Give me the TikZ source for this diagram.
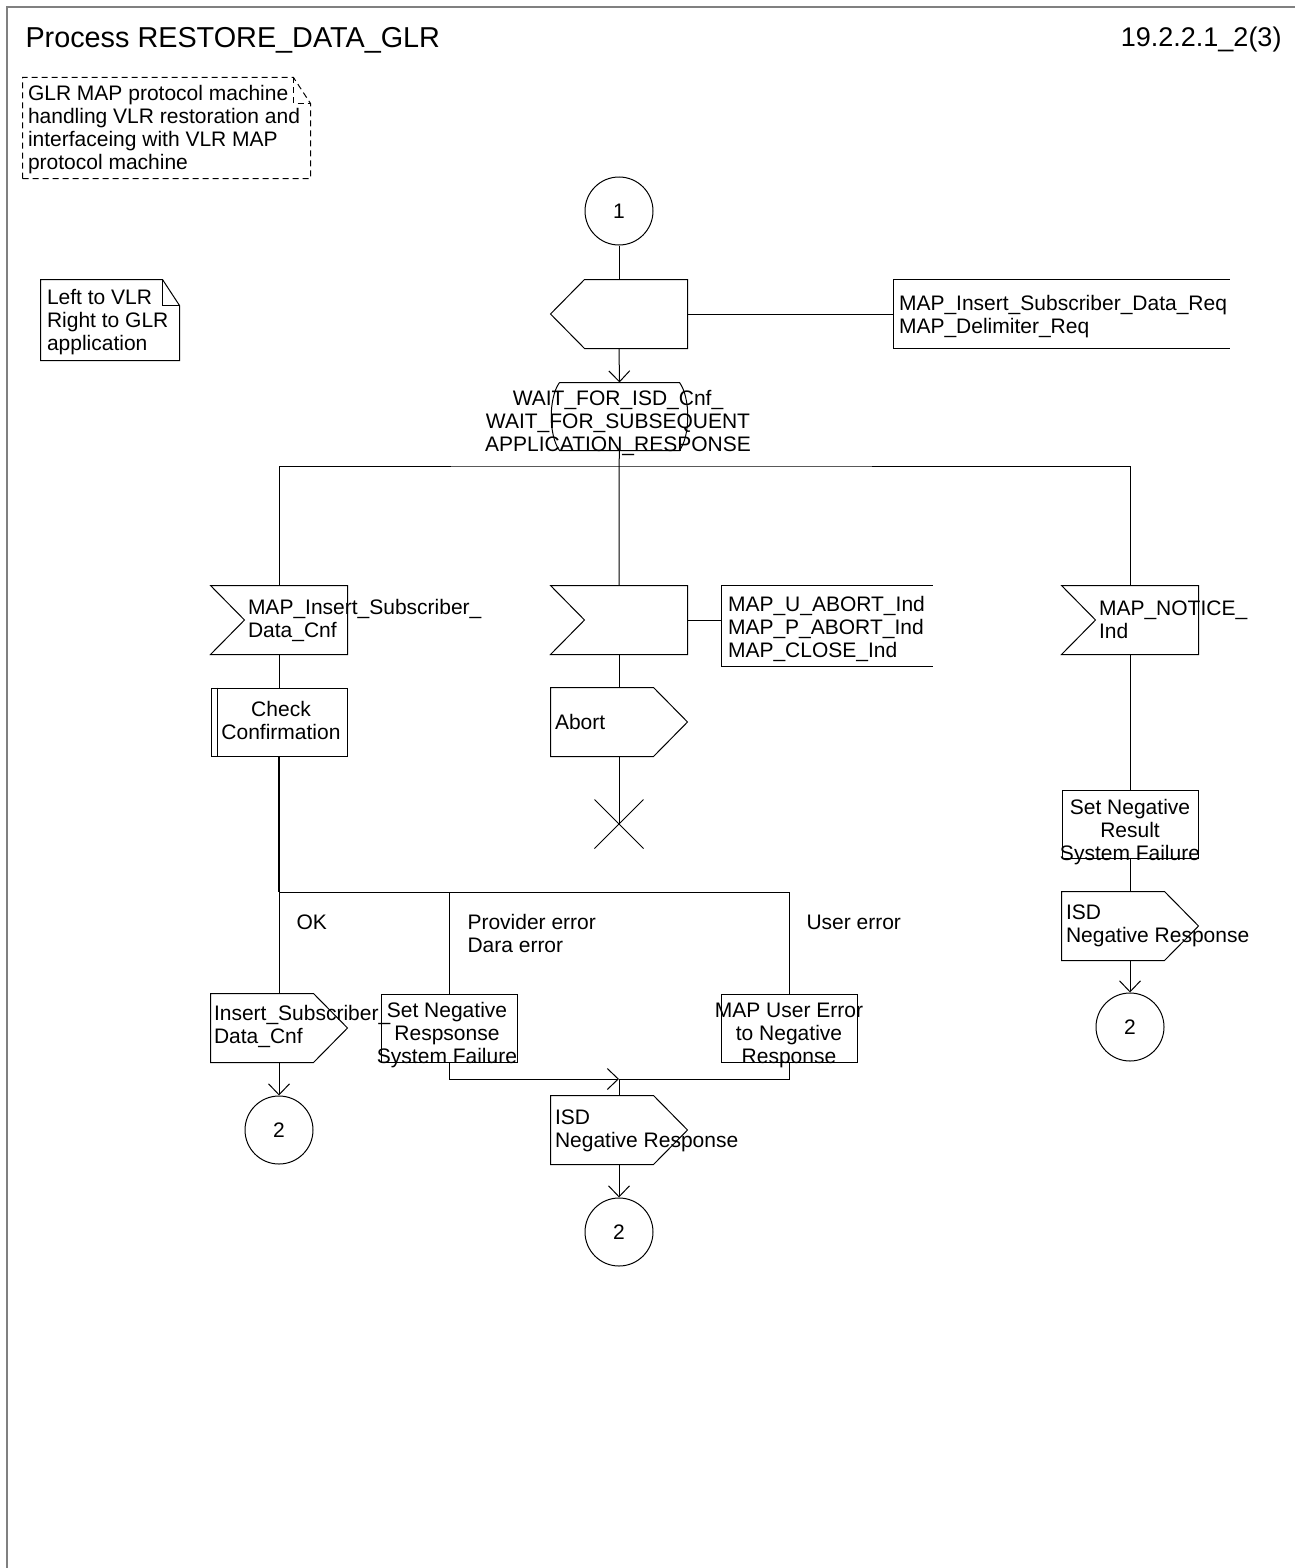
\documentclass[tikz,border=0pt]{standalone}
\usepackage{fontspec}
\setmainfont{Liberation Sans}
\usetikzlibrary{arrows.meta, shapes.misc}

\tikzset{
  lbl/.style={font=\fontsize{10.5}{11.5}\selectfont, inner sep=0pt, align=left},
  sdl/.style={minimum width=68pt, minimum height=34pt, inner sep=0pt},
  task/.style={sdl, draw, rectangle},
  connector/.style={draw, circle, minimum size=34pt, inner sep=0pt, font=\fontsize{10.5}{11.5}\selectfont},
  flow/.style={-{Straight Barb[length=5.5pt,width=10.5pt]}},
  frame/.style={draw=black!50, line width=1pt},
}
% outlines of the SDL symbols, drawn round a named box
\newcommand{\sdlinput}[1]{\draw (#1.north west) -- (#1.north east) -- (#1.south east) -- (#1.south west) -- ([xshift=17pt]#1.west) -- cycle;}
\newcommand{\sdloutput}[1]{\draw (#1.north west) -- ([xshift=-17pt]#1.north east) -- (#1.east) -- ([xshift=-17pt]#1.south east) -- (#1.south west) -- cycle;}
\newcommand{\sdloutleft}[1]{\draw ([xshift=17pt]#1.north west) -- (#1.north east) -- (#1.south east) -- ([xshift=17pt]#1.south west) -- (#1.west) -- cycle;}

\begin{document}
\begin{tikzpicture}[x=0.5pt, y=-0.5pt, line width=0.5pt]
  \useasboundingbox (0,0) rectangle (1295,1568);
  % Frame and heading
  \draw[frame] (7,1580) -- (7,7) -- (1300,7);
  \node[anchor=west, inner sep=0pt, font=\fontsize{14.4}{16}\selectfont] (title) at (25,40) {Process RESTORE\_DATA\_GLR};
  \node[anchor=east, inner sep=0pt, font=\fontsize{13.5}{16}\selectfont] (page) at (1282,40) {19.2.2.1\_2(3)};

  % Comments
  \node[minimum width=143.5pt, minimum height=50pt, inner sep=0pt] (cmt) at (166.5,128) {};
  \draw[dash pattern=on 3pt off 2pt] (cmt.south west) -- (cmt.north west) -- ([xshift=-8.5pt]cmt.north east) -- ([yshift=-13pt]cmt.north east) -- (cmt.south east) -- cycle;
  \draw[dash pattern=on 3pt off 2pt] ([xshift=-8.5pt]cmt.north east) |- ([yshift=-13pt]cmt.north east);
  \node[lbl, anchor=west] at ([xshift=2.5pt,yshift=-1pt]cmt.west) {GLR MAP protocol machine\\handling VLR restoration and\\interfaceing with VLR MAP\\protocol machine};

  \node[minimum width=69pt, minimum height=40pt, inner sep=0pt] (dirNote) at (110,320) {};
  \draw (dirNote.south west) -- (dirNote.north west) -- ([xshift=-8.5pt]dirNote.north east) -- ([yshift=-13pt]dirNote.north east) -- (dirNote.south east) -- cycle;
  \draw ([xshift=-8.5pt]dirNote.north east) |- ([yshift=-13pt]dirNote.north east);
  \node[lbl, anchor=west] at ([xshift=3pt,yshift=-1.2pt]dirNote.west) {Left to VLR\\Right to GLR\\application};

  % Start and send to VLR
  \node[connector] (c1) at (619,211) {1};
  \node[sdl] (toVlr) at (619,314) {};
  \sdloutleft{toVlr}
  \node[minimum width=167.5pt, minimum height=34pt, inner sep=0pt] (isdReq) at (1061.5,314) {};
  \draw (isdReq.north east) -- (isdReq.north west) -- (isdReq.south west) -- (isdReq.south east);
  \node[lbl, anchor=west] at ([xshift=2.5pt,yshift=-1.2pt]isdReq.west) {MAP\_Insert\_Subscriber\_Data\_Req\\MAP\_Delimiter\_Req};
  \draw (c1.south) -- (toVlr.north);
  \draw (toVlr.east) -- (isdReq.west);

  % State
  \node[minimum width=59.5pt, minimum height=33.5pt, inner sep=0pt] (wait) at (619.5,416.5) {};
  \draw (wait.north west) -- (wait.north east) .. controls +(11,15) and +(11,-15) .. (wait.south east) -- (wait.south west) .. controls +(-11,-15) and +(-11,15) .. (wait.north west);
  \node[lbl, align=center] (waitTxt) at (618,423) {WAIT\_FOR\_ISD\_Cnf\_\\WAIT\_FOR\_SUBSEQUENT\\APPLICATION\_RESPONSE};
  \draw[flow] (toVlr.south) -- (wait.north);

  % Inputs
  \node[sdl] (inCnf) at (279,620) {};
  \sdlinput{inCnf}
  \node[lbl, anchor=west] at ([xshift=18.5pt]inCnf.west) {MAP\_Insert\_Subscriber\_\\Data\_Cnf};
  \node[sdl] (inAbort) at (619,620) {};
  \sdlinput{inAbort}
  \node[minimum width=105pt, minimum height=40pt, inner sep=0pt] (abortSig) at (827,626) {};
  \draw (abortSig.north east) -- (abortSig.north west) -- (abortSig.south west) -- (abortSig.south east);
  \node[lbl, anchor=west] at ([xshift=3pt,yshift=-1.7pt]abortSig.west) {MAP\_U\_ABORT\_Ind\\MAP\_P\_ABORT\_Ind\\MAP\_CLOSE\_Ind};
  \draw (inAbort.east) -- (inAbort.east -| abortSig.west);
  \node[sdl] (inNotice) at (1130,620) {};
  \sdlinput{inNotice}
  \node[lbl, anchor=west] at ([xshift=18.5pt]inNotice.west) {MAP\_NOTICE\_\\Ind};

  \coordinate (bus) at (619,466);
  \draw (wait.south) -- (bus) -- (inAbort.north);
  \draw (inCnf.north) |- (bus) -| (inNotice.north);

  % Confirmation branch
  \node[task] (chk) at (279,722) {};
  \draw ([xshift=3.5pt]chk.north west) -- ([xshift=3.5pt]chk.south west);
  \node[lbl, align=center] at (281,720) {Check\\Confirmation};
  \draw (inCnf.south) -- (chk.north);

  \coordinate (split) at (279,892);
  \draw[line width=1pt] (chk.south) -- (split);
  \node[sdl] (outOk) at (279,1028) {};
  \sdloutput{outOk}
  \node[task] (setNeg) at (449,1028) {};
  \node[task] (usrErr) at (789,1028) {};
  \draw (split) -- (outOk.north);
  \draw (split) -- (split -| usrErr.north) -- (usrErr.north);
  \draw (split -| setNeg.north) -- (setNeg.north);
  \node[lbl, anchor=west] (okLbl) at (296,922) {OK};
  \node[lbl, anchor=west] (provLbl) at (467,933.5) {Provider error\\Dara error};
  \node[lbl, anchor=west] (usrLbl) at (806,922) {User error};

  \node[lbl, anchor=west] at ([xshift=1.5pt,yshift=1pt]outOk.west) {Insert\_Subscriber\_\\Data\_Cnf};
  \node[lbl, align=center] at (447,1035) {Set Negative\\Respsonse\\System Failure};
  \node[lbl, align=center] at (789,1035) {MAP User Error\\to Negative\\Response};

  \node[connector] (c2a) at (279,1130) {2};
  \draw[flow] (outOk.south) -- (c2a.north);

  \coordinate (join) at (619,1079);
  \node[sdl] (negIsd) at (619,1130) {};
  \sdloutput{negIsd}
  \node[lbl, anchor=west] at ([xshift=2pt,yshift=-0.2pt]negIsd.west) {ISD\\Negative Response};
  \draw[flow] (setNeg.south) |- (join);
  \draw (usrErr.south) |- (join);
  \draw (join) -- (negIsd.north);
  \node[connector] (c2b) at (619,1232) {2};
  \draw[flow] (negIsd.south) -- (c2b.north);

  % Abort branch
  \node[sdl] (abort) at (619,722) {};
  \sdloutput{abort}
  \node[lbl, anchor=west] at ([xshift=2pt]abort.west) {Abort};
  \node[draw, cross out, minimum size=24pt, inner sep=0pt] (stop) at (619,824) {};
  \draw (inAbort.south) -- (abort.north);
  \draw (abort.south) -- (stop.center);

  % Notice branch
  \node[task] (setRes) at (1130,824) {};
  \node[lbl, align=center] at (1130,832) {Set Negative\\Result\\System Failure};
  \node[sdl] (negIsdR) at (1130,926) {};
  \sdloutput{negIsdR}
  \node[lbl, anchor=west] at ([xshift=2pt]negIsdR.west) {ISD\\Negative Response};
  \node[connector] (c2c) at (1130,1027) {2};
  \draw (inNotice.south) -- (setRes.north);
  \draw (setRes.south) -- (negIsdR.north);
  \draw[flow] (negIsdR.south) -- (c2c.north);
\end{tikzpicture}
\end{document}
